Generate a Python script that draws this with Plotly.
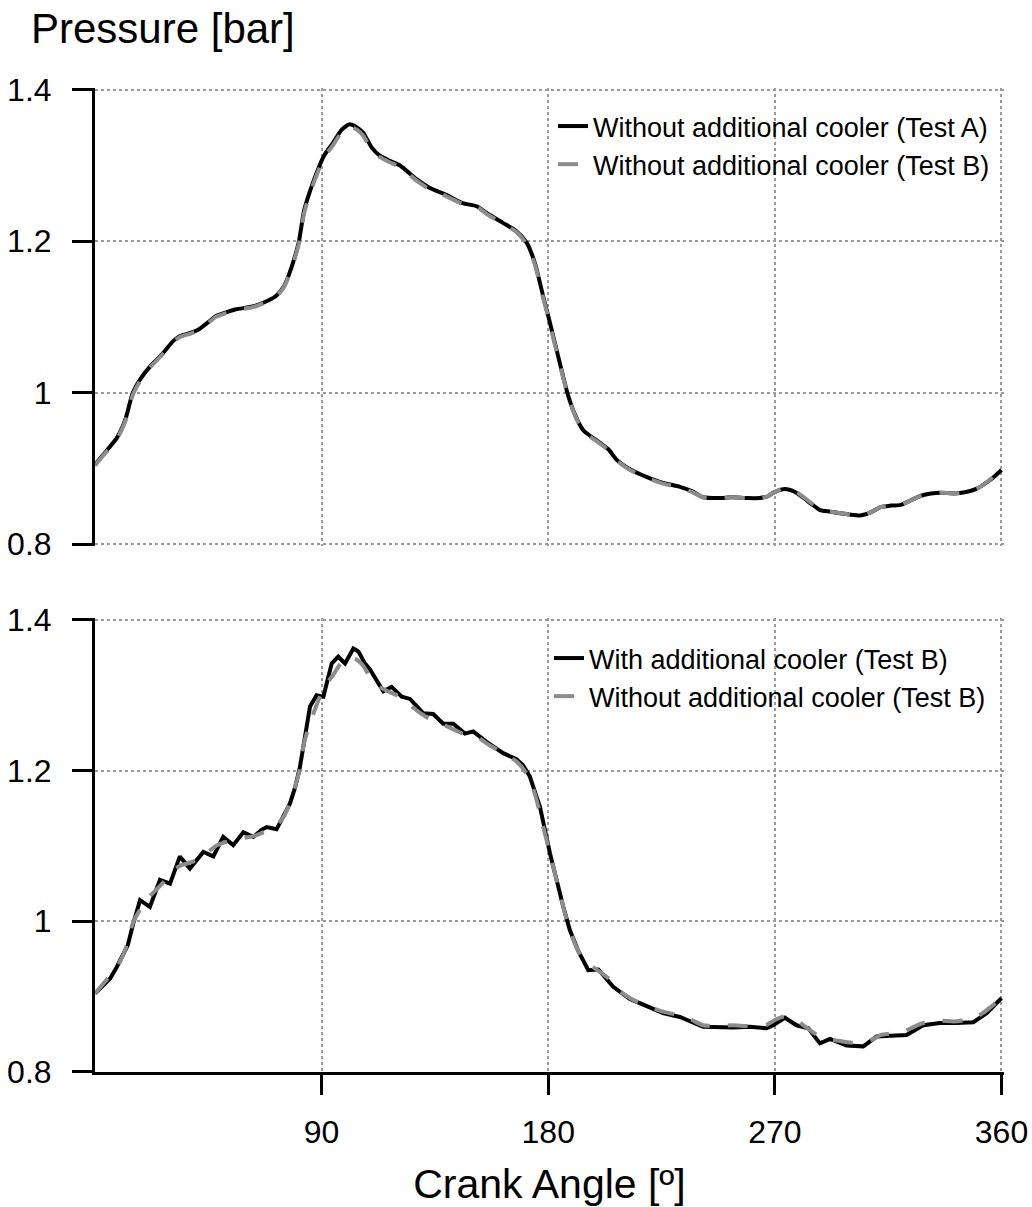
import plotly.graph_objects as go

# ---------------- data ----------------
ang_a = [0, 4, 8.6, 12, 15, 18, 22, 27, 31, 34, 38, 41, 45, 48, 52, 56, 63, 69, 72, 75, 78, 81, 83, 85,
         88, 91, 94.6, 98, 101, 104, 106.5, 110, 113, 117, 121, 124, 128, 133, 139.6, 146, 151.6, 155.5,
         162, 167.4, 171.4, 174.7, 178, 180.7, 184.6, 188, 191, 194, 200, 204, 207, 213, 219, 225.6, 232,
         237, 241.5, 248, 253, 259, 264, 267, 270, 274, 278, 281, 285, 288, 292, 296, 300, 304, 308, 312,
         316, 320, 324, 328, 332, 336, 341, 346, 350, 353, 356, 360]
p_no_cooler_a = [0.905, 0.921, 0.940, 0.964, 1.000, 1.018, 1.035, 1.052, 1.068, 1.075, 1.079, 1.083, 1.093,
                 1.101, 1.106, 1.110, 1.114, 1.122, 1.128, 1.140, 1.165, 1.200, 1.240, 1.262, 1.290, 1.313,
                 1.330, 1.347, 1.354, 1.350, 1.343, 1.323, 1.313, 1.306, 1.300, 1.292, 1.281, 1.270, 1.261,
                 1.250, 1.246, 1.237, 1.224, 1.213, 1.198, 1.171, 1.127, 1.092, 1.039, 0.995, 0.968, 0.950,
                 0.935, 0.925, 0.912, 0.898, 0.889, 0.881, 0.876, 0.870, 0.862, 0.861, 0.862, 0.861, 0.861,
                 0.863, 0.869, 0.873, 0.869, 0.862, 0.852, 0.845, 0.843, 0.841, 0.839, 0.838, 0.842, 0.849,
                 0.851, 0.852, 0.858, 0.864, 0.867, 0.868, 0.867, 0.869, 0.873, 0.879, 0.886, 0.898]

ang_b = ang_a
p_no_cooler_b = [0.904, 0.920, 0.938, 0.962, 0.997, 1.016, 1.034, 1.051, 1.067, 1.074, 1.078, 1.082, 1.092,
                 1.100, 1.105, 1.109, 1.113, 1.121, 1.127, 1.139, 1.163, 1.197, 1.236, 1.259, 1.287, 1.310,
                 1.327, 1.344, 1.351, 1.347, 1.339, 1.320, 1.311, 1.304, 1.298, 1.290, 1.279, 1.268, 1.259,
                 1.249, 1.245, 1.236, 1.223, 1.212, 1.196, 1.169, 1.125, 1.090, 1.037, 0.994, 0.967, 0.949,
                 0.934, 0.924, 0.911, 0.897, 0.888, 0.880, 0.875, 0.869, 0.862, 0.861, 0.862, 0.861, 0.861,
                 0.863, 0.869, 0.874, 0.870, 0.863, 0.853, 0.846, 0.843, 0.841, 0.839, 0.838, 0.842, 0.849,
                 0.851, 0.852, 0.858, 0.864, 0.867, 0.868, 0.867, 0.869, 0.873, 0.879, 0.887, 0.898]

ang_c = [0, 6, 8.6, 13, 15.2, 17.9, 21.8, 25.8, 29.8, 33.7, 37.7, 43, 47, 50.9, 54.9, 58.9, 62.9, 66, 68.2,
         72.1, 77.4, 79.5, 81.4, 83.5, 85.4, 88, 90.7, 94, 96.6, 99.3, 102.6, 104.6, 107, 109.2, 114.5,
         117.8, 121.8, 125.1, 130.4, 134.3, 138.3, 142.3, 146.9, 150.2, 155.5, 162.1, 167.4, 170, 172.7,
         176.7, 180.7, 186, 188.6, 192, 195.9, 199.9, 205.8, 212.4, 219, 225.6, 232.3, 237, 241.5, 253.4,
         260, 266.7, 269.3, 274, 278.6, 283.3, 287.9, 291.9, 298.5, 305.1, 310.4, 316, 322.3, 328.9, 335.5,
         342, 348.8, 354.1, 358.7, 360]
p_cooler_b = [0.904, 0.924, 0.939, 0.968, 0.997, 1.028, 1.019, 1.055, 1.050, 1.086, 1.070, 1.092, 1.086,
              1.112, 1.101, 1.118, 1.112, 1.121, 1.125, 1.122, 1.156, 1.178, 1.205, 1.250, 1.285, 1.300,
              1.298, 1.342, 1.351, 1.342, 1.362, 1.358, 1.343, 1.334, 1.305, 1.311, 1.298, 1.295, 1.276,
              1.275, 1.262, 1.262, 1.249, 1.252, 1.238, 1.223, 1.215, 1.207, 1.192, 1.152, 1.090, 1.019,
              0.988, 0.960, 0.935, 0.936, 0.913, 0.897, 0.887, 0.878, 0.873, 0.866, 0.860, 0.859, 0.860,
              0.858, 0.862, 0.872, 0.862, 0.858, 0.838, 0.844, 0.835, 0.834, 0.847, 0.848, 0.849, 0.862,
              0.865, 0.865, 0.866, 0.878, 0.895, 0.898]

x_ticks = [90, 180, 270, 360]
y_ticks = [0.8, 1.0, 1.2, 1.4]
y_ticktext = ["0.8", "1", "1.2", "1.4"]

label_a = "Without additional cooler (Test A)"
label_b = "Without additional cooler (Test B)"
label_c = "With additional cooler (Test B)"

# ---------------- figure ----------------
W, H = 1032, 1207
FONT = "Liberation Sans, Arial, sans-serif"
BLACK = "#000000"
GRAY = "#8c8c8c"
GRID = "#9a9a9a"

# axis ranges are padded slightly so the edge grid lines (1.4, 0.8, 360) stay visible
X_RANGE = [0, 361]
Y_RANGE_TOP = [0.798, 1.402]
Y_RANGE_BOT = [0.8, 1.402]   # bottom edge is the black x axis line, no grid line there

# pixel geometry of the two plot areas
x0_px = 95
x360_px = 1001.7
x_end_px = x0_px + (x360_px - x0_px) * (X_RANGE[1] / 360)
ML, MR = x0_px, W - x_end_px
top_px = (90, 544.5)   # y pixel of 1.4 and 0.8 (top panel)
bot_px = (620, 1072)   # y pixel of 1.4 and 0.8 (bottom panel)


def span(px, rng):
    per = (px[1] - px[0]) / 0.6
    return (px[0] - (rng[1] - 1.4) * per, px[1] + (0.8 - rng[0]) * per)


top_span = span(top_px, Y_RANGE_TOP)
bot_span = span(bot_px, Y_RANGE_BOT)
MT, MB = top_span[0], H - bot_span[1]
PH = H - MT - MB


def dom(s):
    return [(bot_span[1] - s[1]) / PH, (bot_span[1] - s[0]) / PH]


fig = go.Figure()

fig.add_trace(go.Scatter(x=ang_a, y=p_no_cooler_a, mode="lines", name=label_a,
                         line=dict(color=BLACK, width=4, shape="spline", smoothing=0.6),
                         xaxis="x", yaxis="y", legend="legend"))
fig.add_trace(go.Scatter(x=ang_b, y=p_no_cooler_b, mode="lines", name=label_b,
                         line=dict(color=GRAY, width=4, dash="20px,18px", shape="spline", smoothing=0.6),
                         xaxis="x", yaxis="y", legend="legend"))
fig.add_trace(go.Scatter(x=ang_c, y=p_cooler_b, mode="lines", name=label_c,
                         line=dict(color=BLACK, width=4),
                         xaxis="x2", yaxis="y2", legend="legend2"))
fig.add_trace(go.Scatter(x=ang_b, y=p_no_cooler_b, mode="lines", name=label_b,
                         line=dict(color=GRAY, width=4, dash="20px,18px", shape="spline", smoothing=0.6),
                         xaxis="x2", yaxis="y2", legend="legend2"))

common_y = dict(tickvals=y_ticks, ticktext=y_ticktext,
                showgrid=True, gridcolor=GRID, gridwidth=1.5, griddash="dot",
                showline=True, linecolor=BLACK, linewidth=3,
                ticks="outside", ticklen=20, tickwidth=3, tickcolor=BLACK,
                ticklabelstandoff=14, zeroline=False, automargin=False,
                tickfont=dict(family=FONT, size=32, color=BLACK))

fig.update_layout(
    width=W, height=H,
    margin=dict(l=ML, r=MR, t=MT, b=MB, autoexpand=False),
    paper_bgcolor="white", plot_bgcolor="white",
    font=dict(family=FONT, color=BLACK),
    xaxis=dict(domain=[0, 1], anchor="y", range=X_RANGE, tickvals=x_ticks,
               showticklabels=False, ticks="", showline=False, zeroline=False, automargin=False,
               showgrid=True, gridcolor=GRID, gridwidth=1.5, griddash="dot"),
    yaxis=dict(domain=dom(top_span), anchor="x", range=Y_RANGE_TOP, **common_y),
    xaxis2=dict(domain=[0, 1], anchor="y2", range=X_RANGE, tickvals=x_ticks,
                showgrid=True, gridcolor=GRID, gridwidth=1.5, griddash="dot",
                showline=True, linecolor=BLACK, linewidth=3, zeroline=False, automargin=False,
                ticks="outside", ticklen=20, tickwidth=3, tickcolor=BLACK,
                ticklabelstandoff=10,
                tickfont=dict(family=FONT, size=32, color=BLACK),
                title=dict(text="Crank Angle [º]", font=dict(family=FONT, size=41, color=BLACK),
                           standoff=24)),
    yaxis2=dict(domain=dom(bot_span), anchor="x2", range=Y_RANGE_BOT, **common_y),
    legend=dict(x=553 / W, xanchor="left", y=1 - 102 / H, yanchor="top", xref="container", yref="container",
                bgcolor="rgba(0,0,0,0)", font=dict(family=FONT, size=27, color=BLACK),
                tracegroupgap=0),
    legend2=dict(x=549 / W, xanchor="left", y=1 - 634 / H, yanchor="top", xref="container", yref="container",
                 bgcolor="rgba(0,0,0,0)", font=dict(family=FONT, size=27, color=BLACK),
                 tracegroupgap=0),
    showlegend=True,
    annotations=[dict(text="Pressure [bar]", xref="paper", yref="paper",
                      x=(29 - ML) / (W - ML - MR), y=1 + (MT - 29) / PH, xanchor="left", yanchor="middle",
                      showarrow=False, font=dict(family=FONT, size=42, color=BLACK))],
)

fig.write_html("out.html")
